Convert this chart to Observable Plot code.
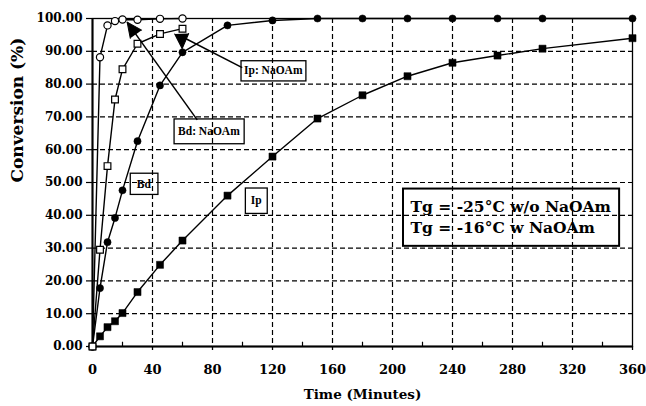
<!DOCTYPE html>
<html><head><meta charset="utf-8">
<script src="https://cdn.jsdelivr.net/npm/d3@7"></script>
<script src="https://cdn.jsdelivr.net/npm/@observablehq/plot@0.6"></script>
<style>body{margin:0;background:#fff} svg{display:block}</style>
</head><body><div id="chart"></div>
<script>
// ---- data ----
const timeIp = [0,5,10,15,20,30,45,60,90,120,150,180,210,240,270,300,360];
const convIp = [0,3.1,5.9,7.7,10.2,16.6,24.9,32.3,46.0,57.9,69.5,76.6,82.4,86.5,88.7,90.8,94.0];
const timeBd = [0,5,10,15,20,30,45,60,90,120,150,180,210,240,270,300,360];
const convBd = [0,17.8,31.8,39.2,47.6,62.6,79.6,89.7,97.9,99.4,100,100,100,100,100,100,100];
const timeBdNa = [0,5,10,15,20,30,45,60];
const convBdNa = [0,88.2,97.9,99.2,99.7,99.6,99.9,100];
const timeIpNa = [0,5,10,15,20,30,45,60];
const convIpNa = [0,29.5,55.0,75.3,84.5,92.3,95.3,96.9];

const xTicks = [0,40,80,120,160,200,240,280,320,360];
const xMinorTicks = [20,60,100,140,180,220,260,300,340];
const yTicks = [0,10,20,30,40,50,60,70,80,90,100];

const annotLabels = ["Ip: NaOAm","Bd: NaOAm","Bd","Ip"];
const annotX = [120.5, 77.6, 34.2, 109.2];
const annotY = [84.1, 65.5, 49.5, 44.5];

const arrowFromX = [99.8, 69.8];
const arrowFromY = [85.0, 69.1];
const arrowToX = [62.0, 23.1];
const arrowToY = [93.9, 98.9];
const headX = [59.8, 23.1];
const headY = [90.8, 98.9];

const legendText = "Tg = -25°C w/o NaOAm\nTg = -16°C w NaOAm";
const legendX = 212, legendY = 39.8;

// ---- tables ----
const mk = (name, t, v) => t.map((d, i) => ({series: name, time: d, conv: v[i]}));
const rowsIp = mk("Ip", timeIp, convIp);
const rowsBd = mk("Bd", timeBd, convBd);
const rowsBdNa = mk("Bd: NaOAm", timeBdNa, convBdNa);
const rowsIpNa = mk("Ip: NaOAm", timeIpNa, convIpNa);
const allRows = [...rowsIp, ...rowsBd, ...rowsBdNa, ...rowsIpNa];
const annots = annotLabels.map((l, i) => ({label: l, x: annotX[i], y: annotY[i]}));
const arrows = arrowFromX.map((d, i) => ({x1: d, y1: arrowFromY[i], x2: arrowToX[i], y2: arrowToY[i]}));
const heads = headX.map((d, i) => ({x: d, y: headY[i], i}));
const headRotate = [178, -36];

const serif = "'DejaVu Serif', serif";
const annotFont = "'Liberation Serif', 'Times New Roman', serif";
const grid = {stroke: "black", strokeOpacity: 1, strokeWidth: 1.2, strokeDasharray: "5,3"};

const plot = Plot.plot({
  width: 646, height: 406,
  marginLeft: 92, marginRight: 14, marginTop: 18, marginBottom: 60,
  style: {fontFamily: serif, fontWeight: "bold", background: "white", color: "black", overflow: "visible"},
  x: {domain: [0, 360], label: null},
  y: {domain: [0, 100], label: null},
  marks: [
    Plot.gridX(xTicks.filter(d => d > 0 && d < 360), grid),
    Plot.gridY(yTicks.filter(d => d > 0 && d < 100), grid),
    Plot.frame({stroke: "black", strokeWidth: 1.3}),
    Plot.ruleX([0], {stroke: "black", strokeWidth: 2}),
    Plot.ruleY([0], {stroke: "black", strokeWidth: 2}),
    Plot.ruleX(xMinorTicks, {y1: 0, y2: 1.3, stroke: "black", strokeWidth: 1.2}),
    Plot.axisX(xTicks, {tickSize: 4, tickPadding: 14, fontSize: 13, strokeWidth: 1.3}),
    Plot.axisY(yTicks, {tickSize: 6, tickPadding: 4, fontSize: 12, tickFormat: d3.format(".2f"), strokeWidth: 1.2}),
    Plot.text(["Time (Minutes)"], {text: d => d, frameAnchor: "bottom", dy: 52, fontSize: 13.5}),
    Plot.text(["Conversion (%)"], {text: d => d, frameAnchor: "left", dx: -75, rotate: -90, fontSize: 17}),
    Plot.line(allRows, {x: "time", y: "conv", z: "series", stroke: "black", strokeWidth: 1.4}),
    Plot.dot(rowsIp, {x: "time", y: "conv", symbol: "square", r: 4, fill: "black", stroke: "black", strokeWidth: 0.5}),
    Plot.dot(rowsBd, {x: "time", y: "conv", symbol: "circle", r: 3.6, fill: "black", stroke: "black", strokeWidth: 0.5}),
    Plot.dot(rowsBdNa, {x: "time", y: "conv", symbol: "circle", r: 3.6, fill: "white", stroke: "black", strokeWidth: 1.2}),
    Plot.dot(rowsIpNa, {x: "time", y: "conv", symbol: "square", r: 3.8, fill: "white", stroke: "black", strokeWidth: 1.2}),
    Plot.link(arrows, {x1: "x1", y1: "y1", x2: "x2", y2: "y2", stroke: "black", strokeWidth: 1.5}),
    Plot.vector(heads, {x: "x", y: "y", rotate: d => headRotate[d.i], length: 15, r: 7, shape: "spike", anchor: "end", fill: "black", stroke: "black", strokeWidth: 1}),
    Plot.text(annots, {x: "x", y: "y", text: "label", fontFamily: annotFont, fontSize: 11.5, fontWeight: "bold"}),
    Plot.text([legendText], {text: d => d, x: () => legendX, y: () => legendY, textAnchor: "start", lineHeight: 1.36, fontSize: 15.5})
  ]
});
document.getElementById("chart").appendChild(plot);

// boxes drawn around the annotation texts, from their rendered extents
const boxPad = {"Ip: NaOAm": [3, 3.6, 1.3], "Bd: NaOAm": [4, 6.4, 1.3], "Bd": [6.5, 4.6, 1.3], "Ip": [5.5, 6.2, 1.3]};
d3.select(plot).selectAll("text").each(function() {
  const txt = this.textContent;
  let pad = boxPad[txt];
  if (!pad && txt.startsWith("Tg")) pad = [7.5, 8.6, 2];
  if (!pad) return;
  const b = this.getBBox();
  const r = document.createElementNS("http://www.w3.org/2000/svg", "rect");
  r.setAttribute("x", b.x - pad[0]);
  r.setAttribute("y", b.y - pad[1]);
  r.setAttribute("width", b.width + 2 * pad[0]);
  r.setAttribute("height", b.height + 2 * pad[1]);
  r.setAttribute("fill", "none");
  r.setAttribute("stroke", "black");
  r.setAttribute("stroke-width", pad[2]);
  const tr = this.getAttribute("transform");
  if (tr) r.setAttribute("transform", tr);
  this.parentNode.insertBefore(r, this);
});
</script>
</body></html>
